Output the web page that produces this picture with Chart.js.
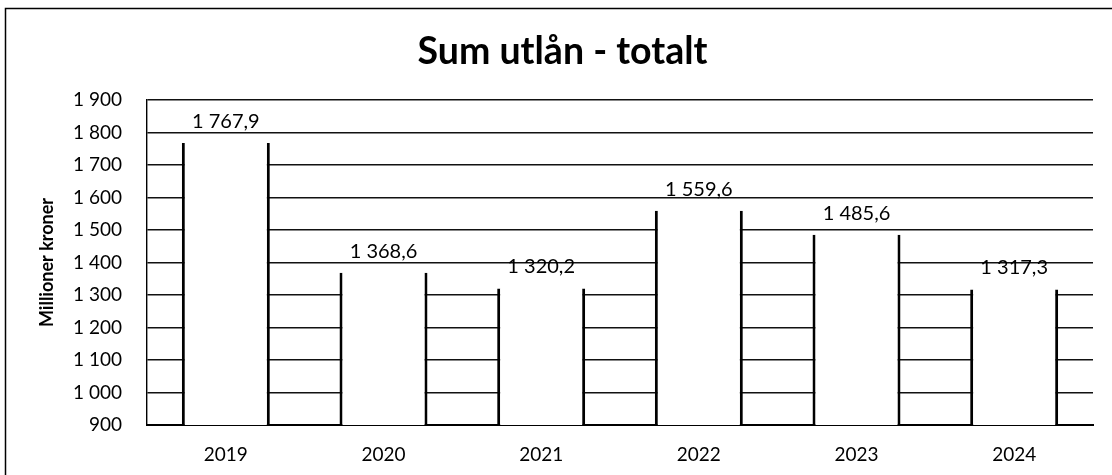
<!DOCTYPE html>
<html>
<head>
<meta charset="utf-8">
<script src="https://cdn.jsdelivr.net/npm/chart.js@4.4.1/dist/chart.umd.min.js"></script>
<style>
  html, body { margin: 0; padding: 0; background: #fff; }
  #wrap { position: relative; width: 1112px; height: 475px; }
</style>
</head>
<body>
<div id="wrap"><canvas id="c" width="1112" height="475"></canvas></div>
<script>
const categories = ['2019', '2020', '2021', '2022', '2023', '2024'];
const values = [1767.9, 1368.6, 1320.2, 1559.6, 1485.6, 1317.3];
const titleText = 'Sum utlån - totalt';
const yTitleText = 'Millioner kroner';
const yMin = 900, yMax = 1900, yStep = 100;

function fmt(v, dec) {
  const s = v.toFixed(dec);
  const parts = s.split('.');
  const intPart = parts[0].replace(/\B(?=(\d{3})+(?!\d))/g, ' ');
  return parts.length > 1 ? intPart + ',' + parts[1] : intPart;
}

const FONT = 'Lato, "Open Sans", sans-serif';

const framePlugin = {
  id: 'frame',
  beforeDraw(chart) {
    const ctx = chart.ctx;
    ctx.save();
    ctx.strokeStyle = '#000';
    ctx.lineWidth = 1.5;
    ctx.beginPath();
    ctx.moveTo(5.5, 475);
    ctx.lineTo(5.5, 8.5);
    ctx.lineTo(1112, 8.5);
    ctx.stroke();
    ctx.restore();
  }
};

const labelPlugin = {
  id: 'valueLabels',
  afterDatasetsDraw(chart) {
    const ctx = chart.ctx;
    const meta = chart.getDatasetMeta(0);
    ctx.save();
    ctx.fillStyle = '#000';
    ctx.font = '20px ' + FONT;
    ctx.textAlign = 'center';
    ctx.textBaseline = 'alphabetic';
    meta.data.forEach((bar, i) => {
      ctx.fillText(fmt(values[i], 1), bar.x, bar.y - 15);
    });
    ctx.restore();
  }
};

new Chart(document.getElementById('c'), {
  type: 'bar',
  data: {
    labels: categories,
    datasets: [{
      data: values,
      backgroundColor: '#ffffff',
      borderColor: '#000000',
      borderWidth: { top: 0, left: 3, right: 3, bottom: 3 },
      borderSkipped: false,
      categoryPercentage: 1.0,
      barPercentage: 0.558
    }]
  },
  options: {
    responsive: false,
    animation: false,
    layout: { padding: { left: 32, right: 19, top: 0, bottom: 0 } },
    plugins: {
      legend: { display: false },
      tooltip: { enabled: false },
      title: {
        display: true,
        text: titleText,
        color: '#000',
        font: { family: FONT, size: 37.5, weight: 'bold' },
        padding: { top: 29.5, bottom: 25.5 }
      }
    },
    scales: {
      x: {
        grid: { display: false, drawTicks: false },
        border: { display: true, color: '#000', width: 2 },
        ticks: { color: '#000', font: { family: FONT, size: 19 }, padding: 18 },
        afterFit(scale) { scale.height = 50; }
      },
      y: {
        min: yMin,
        max: yMax,
        ticks: {
          stepSize: yStep,
          color: '#000',
          font: { family: FONT, size: 19 },
          padding: 25,
          callback: (v) => fmt(v, 0)
        },
        grid: { color: '#111', lineWidth: 1.4, drawTicks: false },
        border: { display: true, color: '#000', width: 1.4 },
        title: {
          display: true,
          text: yTitleText,
          color: '#000',
          font: { family: FONT, size: 18, weight: 'bold' },
          padding: { top: 4, bottom: 4 }
        },
        afterFit(scale) { scale.width = 115; }
      }
    }
  },
  plugins: [framePlugin, labelPlugin]
});
</script>
</body>
</html>
